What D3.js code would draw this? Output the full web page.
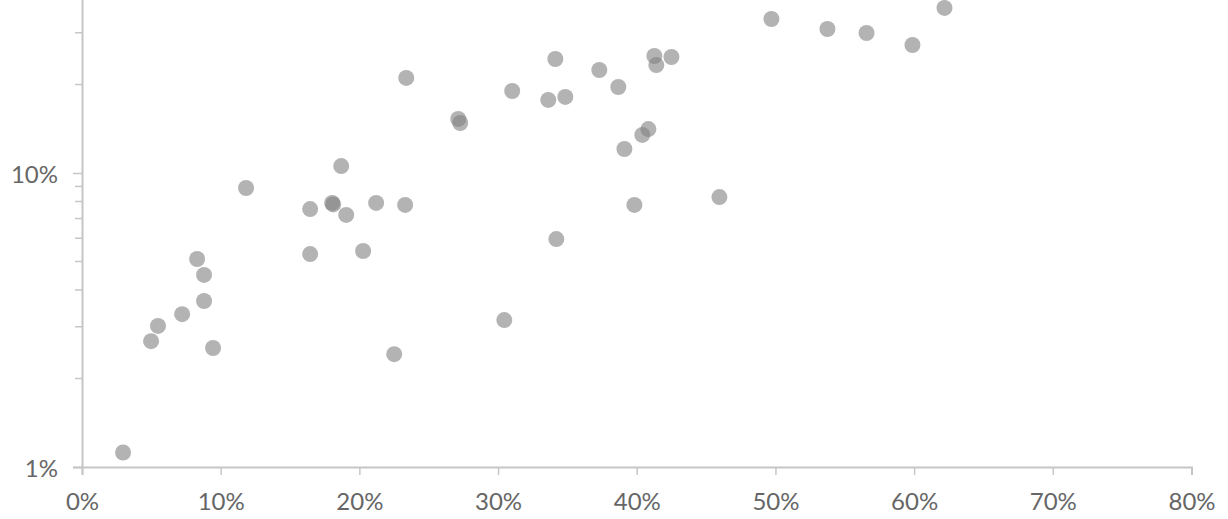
<!DOCTYPE html>
<html>
<head>
<meta charset="utf-8">
<script src="https://cdn.jsdelivr.net/npm/d3@7"></script>
<style>
    html, body { margin: 0; padding: 0; background: #fff; }
    svg { display: block; }
    .axis text { font-family: Lato, 'Open Sans', sans-serif; font-size: 24px; font-weight: 400; fill: #666; }
    .axis path, .axis line { stroke: #c6c6c6; }
</style>
</head>
<body>
<div id="chart"></div>
<script>
// Values, in percent
const shareX = [2.96, 4.98, 5.48, 7.22, 8.80, 8.30, 8.80, 9.45, 11.83, 16.45, 16.45, 18.04, 18.11,
    18.69, 19.05, 20.27, 21.21, 22.51, 23.30, 23.38, 27.13, 27.27, 30.45, 31.02, 33.62, 34.13,
    34.20, 34.85, 37.30, 38.67, 39.11, 39.83, 40.40, 40.84, 41.27, 41.41, 42.50, 45.96, 49.71,
    53.75, 56.57, 59.88, 62.19];
const shareY = [1.12, 2.68, 3.02, 3.31, 3.67, 5.10, 4.50, 2.54, 8.89, 7.54, 5.30, 7.91, 7.82,
    10.56, 7.20, 5.43, 7.91, 2.42, 7.79, 21.05, 15.27, 14.79, 3.16, 19.01, 17.72, 24.42,
    5.96, 18.14, 22.41, 19.61, 12.07, 7.79, 13.47, 14.11, 25.00, 23.29, 24.81, 8.28, 33.41,
    30.89, 29.94, 27.25, 36.42];
const xTicks = [0, 10, 20, 30, 40, 50, 60, 70, 80];
const yLabelTicks = [1, 10];

const width = 1228;
const height = 519;

// 1% sits on the x axis, one decade takes 294px
const x = d3.scaleLinear().domain([0, 80]).range([82, 1191.5]);
const y = d3.scaleLog().domain([1, 100]).range([467, 467 - 2 * 294]);

const svg = d3.select('#chart')
    .append('svg')
    .attr('width', width)
    .attr('height', height);

// minor ticks 2..9 and 20..90
const yMinor = d3.range(2, 10).concat(d3.range(20, 100, 10));

const yAxis = svg.append('g')
    .attr('class', 'axis')
    .attr('transform', `translate(${x(0)},0)`);

yAxis.call(d3.axisLeft(y)
    .tickValues(yLabelTicks)
    .tickSize(9)
    .tickPadding(15)
    .tickFormat(d => d + '%'));

yAxis.selectAll('.minor')
    .data(yMinor)
    .enter()
    .append('line')
    .attr('class', 'minor')
    .attr('x1', -7)
    .attr('x2', 0)
    .attr('y1', d => y(d))
    .attr('y2', d => y(d))
    .attr('stroke-width', 1.5);

yAxis.select('.domain').attr('stroke-width', 2);
yAxis.selectAll('.tick line').attr('stroke-width', 1.5);
yAxis.selectAll('.tick text').attr('dy', '0.38em');

const xAxis = svg.append('g')
    .attr('class', 'axis')
    .attr('transform', `translate(0,${y(1)})`);

xAxis.call(d3.axisBottom(x)
    .tickValues(xTicks)
    .tickSize(8)
    .tickSizeOuter(8)
    .tickPadding(18)
    .tickFormat(d => d + '%'));

xAxis.select('.domain').attr('stroke-width', 2);
xAxis.selectAll('.tick line').attr('stroke-width', 1.5);

// dots
svg.append('g')
    .selectAll('circle')
    .data(shareX.map((v, i) => ({ x: v, y: shareY[i] })))
    .enter()
    .append('circle')
    .attr('cx', d => x(d.x))
    .attr('cy', d => y(d.y))
    .attr('r', 8)
    .attr('fill', '#808080')
    .attr('fill-opacity', 0.6);
</script>
</body>
</html>
